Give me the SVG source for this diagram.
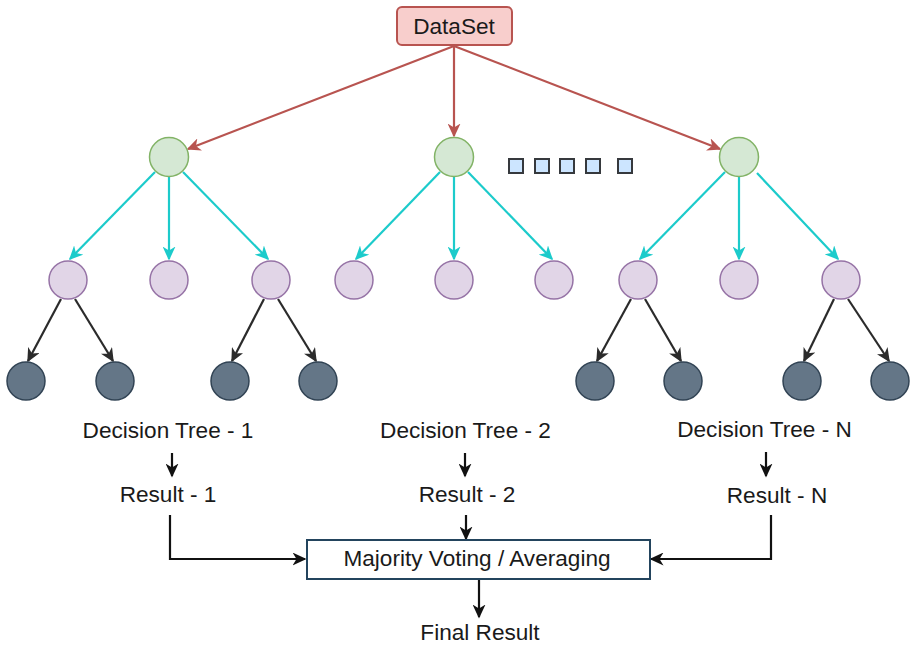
<svg xmlns="http://www.w3.org/2000/svg" width="911" height="645" viewBox="0 0 911 645">
<defs>
<style>
text{font-family:"Liberation Sans",Arial,sans-serif;font-size:22.6px;fill:#1a1a1a;text-anchor:middle}
.g{fill:#d5e8d4;stroke:#82b366;stroke-width:1.5}
.p{fill:#e1d5e7;stroke:#9673a6;stroke-width:1.5}
.d{fill:#647687;stroke:#314354;stroke-width:1.5}
.sq{fill:#cce5ff;stroke:#36393d;stroke-width:2}
.er{fill:none;stroke:#b85450;stroke-width:2.2;marker-end:url(#mr)}
.ec{fill:none;stroke:#1ccbcb;stroke-width:2.2;marker-end:url(#mc)}
.ed{fill:none;stroke:#2b2b2b;stroke-width:2.2;marker-end:url(#md)}
.ek{fill:none;stroke:#111;stroke-width:2.2;marker-end:url(#mk)}
</style>
<marker id="mr" markerUnits="userSpaceOnUse" markerWidth="15" markerHeight="13" viewBox="0 0 15 13" refX="12.5" refY="6.5" orient="auto"><path d="M0,0 L14,6.5 L0,13 L4,6.5 z" fill="#b85450"/></marker>
<marker id="mc" markerUnits="userSpaceOnUse" markerWidth="15" markerHeight="13" viewBox="0 0 15 13" refX="12.5" refY="6.5" orient="auto"><path d="M0,0 L14,6.5 L0,13 L4,6.5 z" fill="#1ccbcb"/></marker>
<marker id="md" markerUnits="userSpaceOnUse" markerWidth="15" markerHeight="13" viewBox="0 0 15 13" refX="12.5" refY="6.5" orient="auto"><path d="M0,0 L14,6.5 L0,13 L4,6.5 z" fill="#2b2b2b"/></marker>
<marker id="mk" markerUnits="userSpaceOnUse" markerWidth="15" markerHeight="13" viewBox="0 0 15 13" refX="12.5" refY="6.5" orient="auto"><path d="M0,0 L14,6.5 L0,13 L4,6.5 z" fill="#111"/></marker>
</defs>
<rect width="911" height="645" fill="#ffffff"/>

<g id="connectors">
<path class="er" d="M454,46 L188,149"/>
<path class="er" d="M454,46 L454,136"/>
<path class="er" d="M454,46 L720,149"/>

<path class="ec" d="M155,172 L70,259"/>
<path class="ec" d="M169,177 L169,259"/>
<path class="ec" d="M183,172 L268,259"/>
<path class="ec" d="M440,172 L356,259"/>
<path class="ec" d="M454,177 L454,259"/>
<path class="ec" d="M468,172 L552,259"/>
<path class="ec" d="M725,172 L640,259"/>
<path class="ec" d="M739,177 L739,259"/>
<path class="ec" d="M757,173 L838,259"/>

<path class="ed" d="M61,299 L28,361"/>
<path class="ed" d="M75,299 L113,361"/>
<path class="ed" d="M264,299 L232,361"/>
<path class="ed" d="M278,299 L316,361"/>
<path class="ed" d="M631,299 L597,361"/>
<path class="ed" d="M645,299 L681,361"/>
<path class="ed" d="M834,299 L804,361"/>
<path class="ed" d="M848,299 L889,361"/>

<path class="ek" d="M172,453 L172,476"/>
<path class="ek" d="M465,453 L465,476"/>
<path class="ek" d="M766,452 L766,476"/>
<path class="ek" d="M170,515 L170,559 L305,559"/>
<path class="ek" d="M466,515 L466,539"/>
<path class="ek" d="M771,515 L771,559 L651,559"/>
<path class="ek" d="M479,580 L479,617"/>
</g>

<g id="dataset"><rect x="397" y="7" width="115" height="38" rx="5" fill="#f8cecc" stroke="#b85450" stroke-width="2"/><text x="454" y="34">DataSet</text></g>

<g id="root1"><circle class="g" cx="169" cy="157" r="19.5"/></g>
<g id="root2"><circle class="g" cx="454" cy="157" r="19.5"/></g>
<g id="root3"><circle class="g" cx="739" cy="157" r="19.5"/></g>

<g id="dots">
<rect class="sq" x="509" y="159" width="14" height="14"/>
<rect class="sq" x="535" y="159" width="14" height="14"/>
<rect class="sq" x="560" y="159" width="14" height="14"/>
<rect class="sq" x="586" y="159" width="14" height="14"/>
<rect class="sq" x="618" y="159" width="14" height="14"/>
</g>

<g id="p1"><circle class="p" cx="68" cy="280" r="19"/></g>
<g id="p2"><circle class="p" cx="169" cy="280" r="19"/></g>
<g id="p3"><circle class="p" cx="271" cy="280" r="19"/></g>
<g id="p4"><circle class="p" cx="354" cy="280" r="19"/></g>
<g id="p5"><circle class="p" cx="454" cy="280" r="19"/></g>
<g id="p6"><circle class="p" cx="554" cy="280" r="19"/></g>
<g id="p7"><circle class="p" cx="638" cy="280" r="19"/></g>
<g id="p8"><circle class="p" cx="739" cy="280" r="19"/></g>
<g id="p9"><circle class="p" cx="841" cy="280" r="19"/></g>

<g id="l1"><circle class="d" cx="26" cy="381" r="19"/></g>
<g id="l2"><circle class="d" cx="115" cy="381" r="19"/></g>
<g id="l3"><circle class="d" cx="230" cy="381" r="19"/></g>
<g id="l4"><circle class="d" cx="318" cy="381" r="19"/></g>
<g id="l5"><circle class="d" cx="595" cy="381" r="19"/></g>
<g id="l6"><circle class="d" cx="683" cy="381" r="19"/></g>
<g id="l7"><circle class="d" cx="802" cy="381" r="19"/></g>
<g id="l8"><circle class="d" cx="890" cy="381" r="19"/></g>

<g id="dt1"><text x="168" y="438">Decision Tree - 1</text></g>
<g id="dt2"><text x="465.5" y="438">Decision Tree - 2</text></g>
<g id="dtn"><text x="764.5" y="437">Decision Tree - N</text></g>
<g id="r1"><text x="168" y="502">Result - 1</text></g>
<g id="r2"><text x="467" y="502">Result - 2</text></g>
<g id="rn"><text x="777" y="503">Result - N</text></g>

<g id="vote"><rect x="307" y="540" width="343" height="39" fill="#ffffff" stroke="#23445d" stroke-width="2"/><text x="477" y="566">Majority Voting / Averaging</text></g>
<g id="final"><text x="480" y="640">Final Result</text></g>
</svg>
